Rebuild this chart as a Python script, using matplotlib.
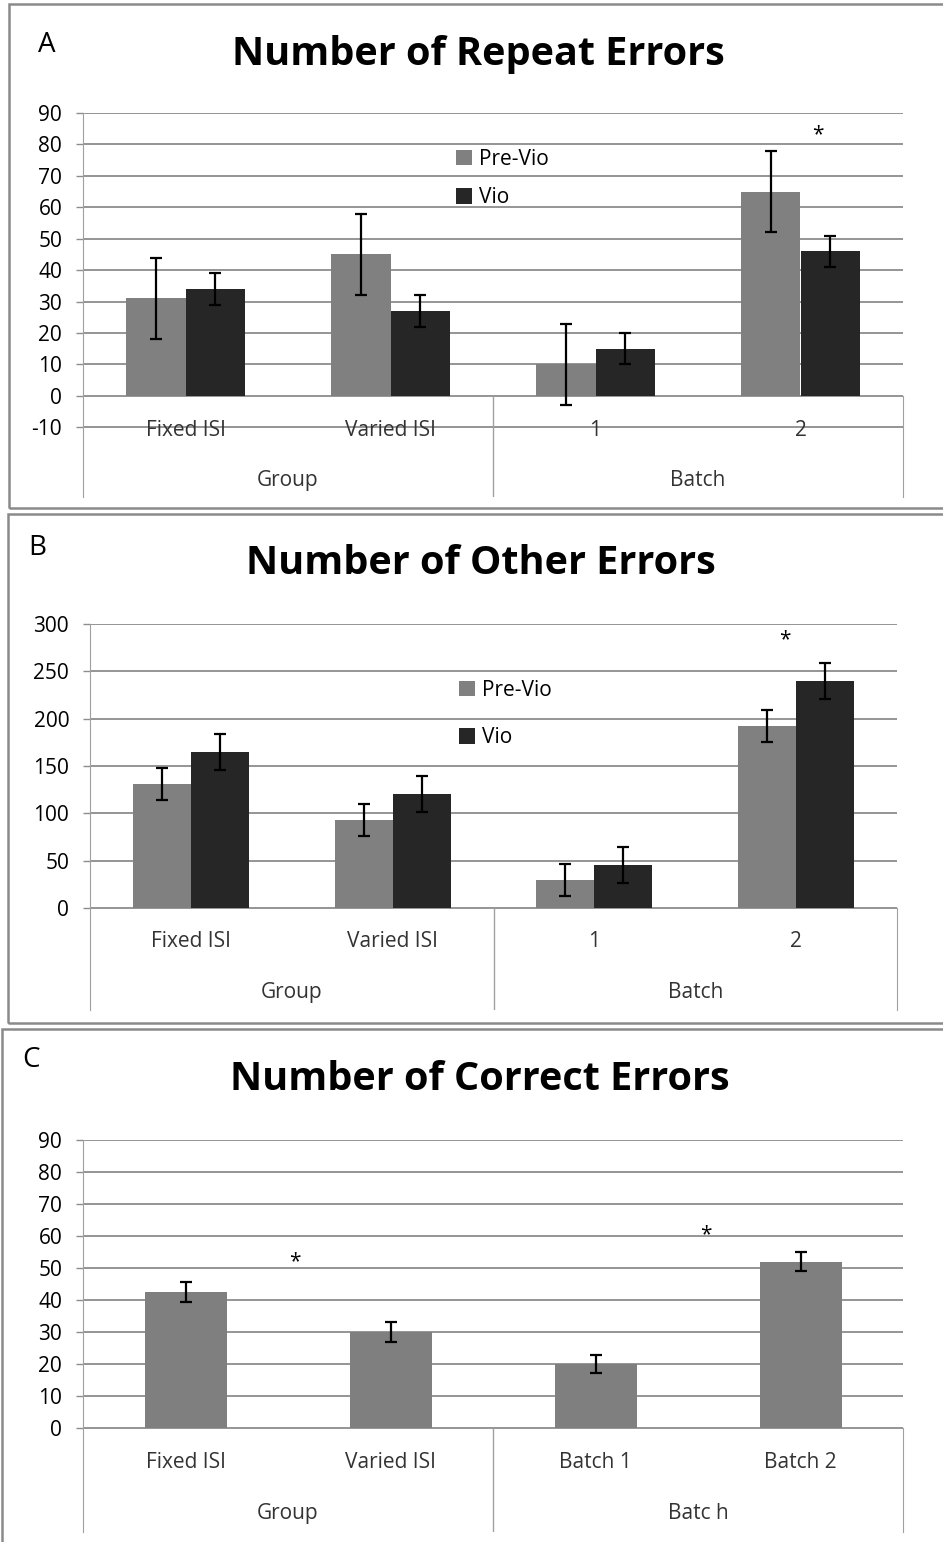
import matplotlib.pyplot as plt
from matplotlib.patches import Rectangle

plt.rcParams['font.family'] = ['Open Sans', 'DejaVu Sans']
plt.rcParams['axes.unicode_minus'] = False

# Data
categories = ['Fixed ISI', 'Varied ISI', '1', '2']
groups = ['Group', 'Batch']

repeat_pre = [31, 45, 10, 65]
repeat_pre_err = [13, 13, 13, 13]
repeat_vio = [34, 27, 15, 46]
repeat_vio_err = [5, 5, 5, 5]

other_pre = [131, 93, 30, 192]
other_pre_err = [17, 17, 17, 17]
other_vio = [165, 120, 45, 240]
other_vio_err = [19, 19, 19, 19]

correct_categories = ['Fixed ISI', 'Varied ISI', 'Batch 1', 'Batch 2']
correct_groups = ['Group', 'Batc h']
correct_vals = [42.5, 30, 20, 52]
correct_err = [3, 3, 2.8, 3]

W, H = 943, 1542
PRE_C = '#808080'
VIO_C = '#262626'
GRID_C = '#8c8c8c'

fig = plt.figure(figsize=(W / 100, H / 100), dpi=100)


def px_axes(x0, y0, x1, y1):
    return fig.add_axes([x0 / W, 1 - y1 / H, (x1 - x0) / W, (y1 - y0) / H])


def frame(x0, y0, x1, y1):
    fig.patches.append(Rectangle((x0 / W, 1 - y1 / H), (x1 - x0) / W, (y1 - y0) / H,
                                 transform=fig.transFigure, fill=False,
                                 edgecolor='#8a8a8a', lw=1.8))


def setup(ax, yticks, ymin, cats, grps, lab_y, grp_y):
    top = yticks[-1]
    ax.set_xlim(-0.5, 3.5)
    ax.set_ylim(ymin, top)
    for t in yticks:
        ax.axhline(t, color=GRID_C, lw=1.3, zorder=0)
    ax.set_yticks(yticks)
    ax.set_xticks([])
    ax.tick_params(axis='y', length=5, width=1, color=GRID_C, pad=10, labelsize=15)
    for s in ['top', 'bottom']:
        ax.spines[s].set_visible(False)
    ax.spines['left'].set_color('#a0a0a0')
    ax.spines['right'].set_color('#a0a0a0')
    ax.spines['right'].set_bounds(ymin, 0)
    ax.vlines(1.5, ymin, 0, color='#a0a0a0', lw=1)
    for i, c in enumerate(cats):
        ax.text(i, lab_y, c, ha='center', va='center', fontsize=15, color='#333333')
    ax.text(0.5, grp_y, grps[0], ha='center', va='center', fontsize=15, color='#333333')
    ax.text(2.5, grp_y, grps[1], ha='center', va='center', fontsize=15, color='#333333')


def paired(ax, pre, pre_err, vio, vio_err, width):
    x = range(len(pre))
    xp = [i - width / 2 for i in x]
    xv = [i + width / 2 for i in x]
    err_kw = dict(ecolor='black', elinewidth=1.6, capsize=4, capthick=1.6)
    ax.bar(xp, pre, width, color=PRE_C, yerr=pre_err, error_kw=err_kw, zorder=2, label='Pre-Vio')
    ax.bar(xv, vio, width, color=VIO_C, yerr=vio_err, error_kw=err_kw, zorder=2, label='Vio')


# ---- Panel A
frame(9, 4, 960, 508)
axA = px_axes(83, 113, 903, 497)
setup(axA, list(range(-10, 91, 10)), -32.2, categories, groups, -11.1, -26.8)
paired(axA, repeat_pre, repeat_pre_err, repeat_vio, repeat_vio_err, 0.288)
axA.text(3.085, 83, '*', ha='center', va='center', fontsize=15)
axA.legend(loc='upper left', bbox_to_anchor=((437 - 83) / 820, (113 - 130) / 384 + 1),
           frameon=False, fontsize=15, handlelength=0.8, handleheight=0.8,
           handletextpad=0.3, labelspacing=0.85)
fig.text(47 / W, 1 - 45 / H, 'A', fontsize=20, ha='center', va='center')
fig.text(478 / W, 1 - 54 / H, 'Number of Repeat Errors', fontsize=28.5,
         fontweight='bold', ha='center', va='center')

# ---- Panel B
frame(8, 514, 960, 1023)
axB = px_axes(90, 624, 897, 1010)
setup(axB, list(range(0, 301, 50)), -107.7, categories, groups, -34.9, -88.7)
paired(axB, other_pre, other_pre_err, other_vio, other_vio_err, 0.287)
axB.text(2.945, 283, '*', ha='center', va='center', fontsize=15)
axB.legend(loc='upper left', bbox_to_anchor=((440 - 90) / 807, (624 - 661) / 386 + 1),
           frameon=False, fontsize=15, handlelength=0.8, handleheight=0.8,
           handletextpad=0.3, labelspacing=1.25)
fig.text(37 / W, 1 - 548 / H, 'B', fontsize=20, ha='center', va='center')
fig.text(481 / W, 1 - 564 / H, 'Number of Other Errors', fontsize=28.5,
         fontweight='bold', ha='center', va='center')

# ---- Panel C
frame(2, 1029, 960, 1560)
axC = px_axes(83, 1140, 903, 1532)
setup(axC, list(range(0, 91, 10)), -32.5, correct_categories, correct_groups, -10.9, -26.6)
axC.bar(range(4), correct_vals, 0.4, color='#7f7f7f', yerr=correct_err, zorder=2,
        error_kw=dict(ecolor='black', elinewidth=1.6, capsize=4, capthick=1.6))
axC.text(0.534, 51.9, '*', ha='center', va='center', fontsize=15)
axC.text(2.539, 60.3, '*', ha='center', va='center', fontsize=15)
fig.text(31 / W, 1 - 1060 / H, 'C', fontsize=20, ha='center', va='center')
fig.text(480 / W, 1 - 1079 / H, 'Number of Correct Errors', fontsize=28.5,
         fontweight='bold', ha='center', va='center')

fig.savefig('out.png', dpi=100)
